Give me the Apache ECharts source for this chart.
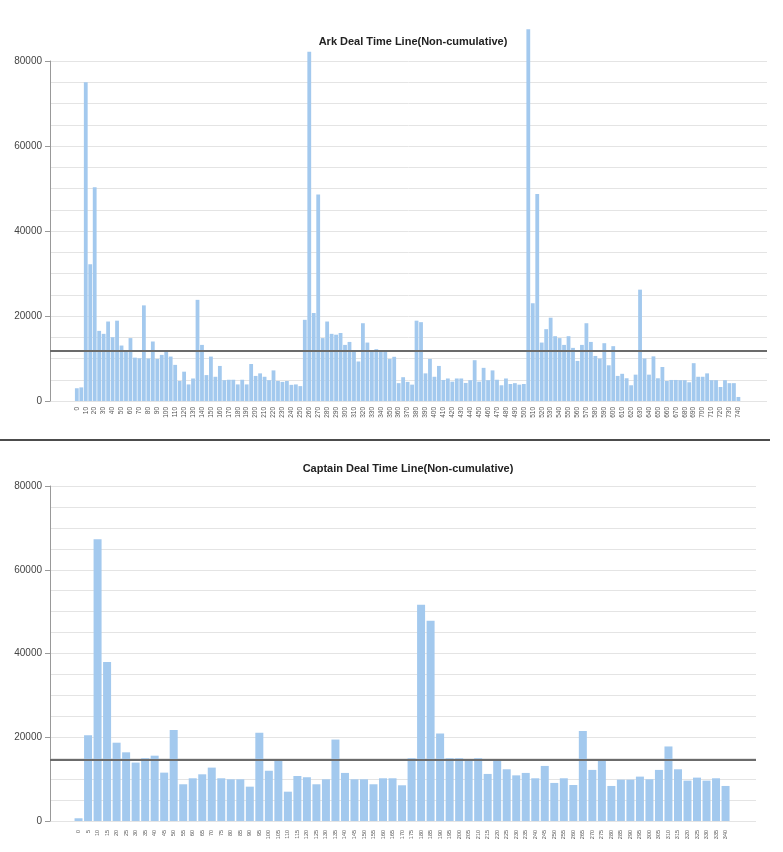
<!DOCTYPE html>
<html>
<head>
<meta charset="utf-8">
<title>Deal Time Line</title>
<script src="https://cdn.jsdelivr.net/npm/echarts@6/dist/echarts.min.js"></script>
<style>
  html, body { margin: 0; padding: 0; background: #fff; }
  #chart { width: 783px; height: 852px; }
</style>
</head>
<body>
<div id="chart"></div>
<script>
// Ark: deal time bins (5 units), labels every 10
const arkTimes = [
  0, 5, 10, 15, 20, 25, 30, 35, 40, 45,
  50, 55, 60, 65, 70, 75, 80, 85, 90, 95,
  100, 105, 110, 115, 120, 125, 130, 135, 140, 145,
  150, 155, 160, 165, 170, 175, 180, 185, 190, 195,
  200, 205, 210, 215, 220, 225, 230, 235, 240, 245,
  250, 255, 260, 265, 270, 275, 280, 285, 290, 295,
  300, 305, 310, 315, 320, 325, 330, 335, 340, 345,
  350, 355, 360, 365, 370, 375, 380, 385, 390, 395,
  400, 405, 410, 415, 420, 425, 430, 435, 440, 445,
  450, 455, 460, 465, 470, 475, 480, 485, 490, 495,
  500, 505, 510, 515, 520, 525, 530, 535, 540, 545,
  550, 555, 560, 565, 570, 575, 580, 585, 590, 595,
  600, 605, 610, 615, 620, 625, 630, 635, 640, 645,
  650, 655, 660, 665, 670, 675, 680, 685, 690, 695,
  700, 705, 710, 715, 720, 725, 730, 735, 740
]
const arkCounts = [
  3000, 3200, 75000, 32200, 50300, 16500, 15800, 18700, 15000, 18900,
  13050, 11600, 14800, 10200, 10050, 22500, 10000, 14000, 9900, 10850,
  11900, 10450, 8500, 4700, 6900, 3900, 5300, 23800, 13200, 6100,
  10450, 5700, 8250, 4900, 5000, 5000, 3900, 5000, 3900, 8700,
  5900, 6500, 5700, 4900, 7200, 4700, 4500, 4700, 3800, 3900,
  3500, 19100, 82200, 20700, 48600, 14800, 18700, 15800, 15600, 16000,
  13200, 13900, 11600, 9300, 18300, 13750, 11900, 12200, 11600, 11550,
  9900, 10400, 4200, 5600, 4500, 3850, 18900, 18550, 6500, 9900,
  5700, 8250, 4950, 5300, 4550, 5300, 5300, 4250, 4900, 9600,
  4550, 7800, 4900, 7200, 5000, 3700, 5300, 4000, 4200, 3850,
  4000, 87500, 23000, 48700, 13750, 16900, 19600, 15250, 14800, 13200,
  15250, 12500, 9430, 13200, 18300, 13900, 10600, 10000, 13600, 8400,
  12900, 5900, 6400, 5350, 3700, 6200, 26200, 10000, 6200, 10500,
  5350, 8000, 4700, 4950, 4950, 4900, 4900, 4400, 8900, 5700,
  5700, 6500, 4900, 4900, 3300, 4900, 4200, 4200, 950
]
const arkMean = 11800

// Captain: deal time bins (5 units)
const captainTimes = [
  0, 5, 10, 15, 20, 25, 30, 35, 40, 45,
  50, 55, 60, 65, 70, 75, 80, 85, 90, 95,
  100, 105, 110, 115, 120, 125, 130, 135, 140, 145,
  150, 155, 160, 165, 170, 175, 180, 185, 190, 195,
  200, 205, 210, 215, 220, 225, 230, 235, 240, 245,
  250, 255, 260, 265, 270, 275, 280, 285, 290, 295,
  300, 305, 310, 315, 320, 325, 330, 335, 340
]
const captainCounts = [
  650, 20500, 67300, 38000, 18700, 16400, 13950, 15000, 15600, 11550,
  21750, 8770, 10200, 11150, 12750, 10200, 9960, 9960, 8200, 21100,
  12000, 14500, 7000, 10750, 10450, 8770, 9960, 19450, 11480, 9960,
  9960, 8770, 10200, 10200, 8530, 15000, 51650, 47800, 20900, 15000,
  15000, 14600, 15000, 11240, 14500, 12350, 10900, 11480, 10200, 13150,
  9090, 10200, 8600, 21500, 12200, 14400, 8370, 9880, 9880, 10600,
  9960, 12200, 17800, 12350, 9640, 10360, 9640, 10200, 8370
]
const captainMean = 14600

// y axis ticks (labels every 20000, light grid every 5000)
const yMax = 80000
const yStep = 20000

const font = 'Liberation Sans, Arial, sans-serif'
const barColor = '#a3c9ee'

const chartInstance = echarts.init(document.getElementById('chart'))

// shared y axis look
function makeYAxis (gridIndex) {
  return {
    type: 'value',
    gridIndex: gridIndex,
    min: 0,
    max: yMax,
    interval: yStep,
    axisLine: { show: true, onZero: false, lineStyle: { color: '#999', width: 1 } },
    axisTick: { show: true, length: 5, lineStyle: { color: '#999' } },
    axisLabel: {
      color: '#444',
      fontSize: 10,
      fontFamily: font,
      margin: 8,
      formatter: (v) => String(v)
    },
    splitLine: { show: true, lineStyle: { color: '#e4e4e4' } },
    minorTick: { show: false, splitNumber: 4 },
    minorSplitLine: { show: true, lineStyle: { color: '#e4e4e4' } }
  }
}

// x axis is a value axis so the bars sit inside padded edges
function makeXAxis (gridIndex, min, max, step, last, size, margin) {
  return {
    type: 'value',
    gridIndex: gridIndex,
    min: min,
    max: max,
    interval: step,
    axisLine: { show: false, onZero: false },
    axisTick: { show: false },
    splitLine: { show: false },
    axisLabel: {
      rotate: 90,
      fontSize: size,
      fontFamily: font,
      color: '#555',
      margin: margin,
      showMinLabel: false,
      showMaxLabel: false,
      formatter: (v) => (v < 0 || v > last) ? '' : String(v)
    }
  }
}

function meanLine (value) {
  return {
    silent: true,
    symbol: 'none',
    label: { show: false },
    lineStyle: { color: '#6b6b6b', width: 2, type: 'solid' },
    data: [{ yAxis: value }]
  }
}

const option = {
  animation: false,
  backgroundColor: '#fff',
  textStyle: { fontFamily: font },
  title: [
    {
      text: 'Ark Deal Time Line(Non-cumulative)',
      left: 408,
      top: 31,
      textAlign: 'center',
      textStyle: { fontSize: 11, fontWeight: 'bold', color: '#222', fontFamily: font }
    },
    {
      text: 'Captain Deal Time Line(Non-cumulative)',
      left: 403,
      top: 458,
      textAlign: 'center',
      textStyle: { fontSize: 11, fontWeight: 'bold', color: '#222', fontFamily: font }
    }
  ],
  grid: [
    { left: 50, width: 717, top: 61, height: 340 },
    { left: 50, width: 706, top: 486, height: 335 }
  ],
  xAxis: [
    makeXAxis(0, -30, 772, 10, 740, 6.5, 6),
    makeXAxis(1, -15, 356, 5, 340, 5.5, 9)
  ],
  yAxis: [makeYAxis(0), makeYAxis(1)],
  graphic: [
    {
      type: 'line',
      shape: { x1: 0, y1: 440, x2: 770, y2: 440 },
      style: { stroke: '#111', lineWidth: 1.5 }
    }
  ],
  series: [
    {
      type: 'bar',
      xAxisIndex: 0,
      yAxisIndex: 0,
      clip: false,
      barWidth: 3.8,
      itemStyle: { color: barColor },
      data: arkTimes.map((t, i) => [t, arkCounts[i]]),
      markLine: meanLine(arkMean)
    },
    {
      type: 'bar',
      xAxisIndex: 1,
      yAxisIndex: 1,
      clip: false,
      barWidth: 8,
      itemStyle: { color: barColor },
      data: captainTimes.map((t, i) => [t, captainCounts[i]]),
      markLine: meanLine(captainMean)
    }
  ]
}
chartInstance.setOption(option)
</script>
</body>
</html>
